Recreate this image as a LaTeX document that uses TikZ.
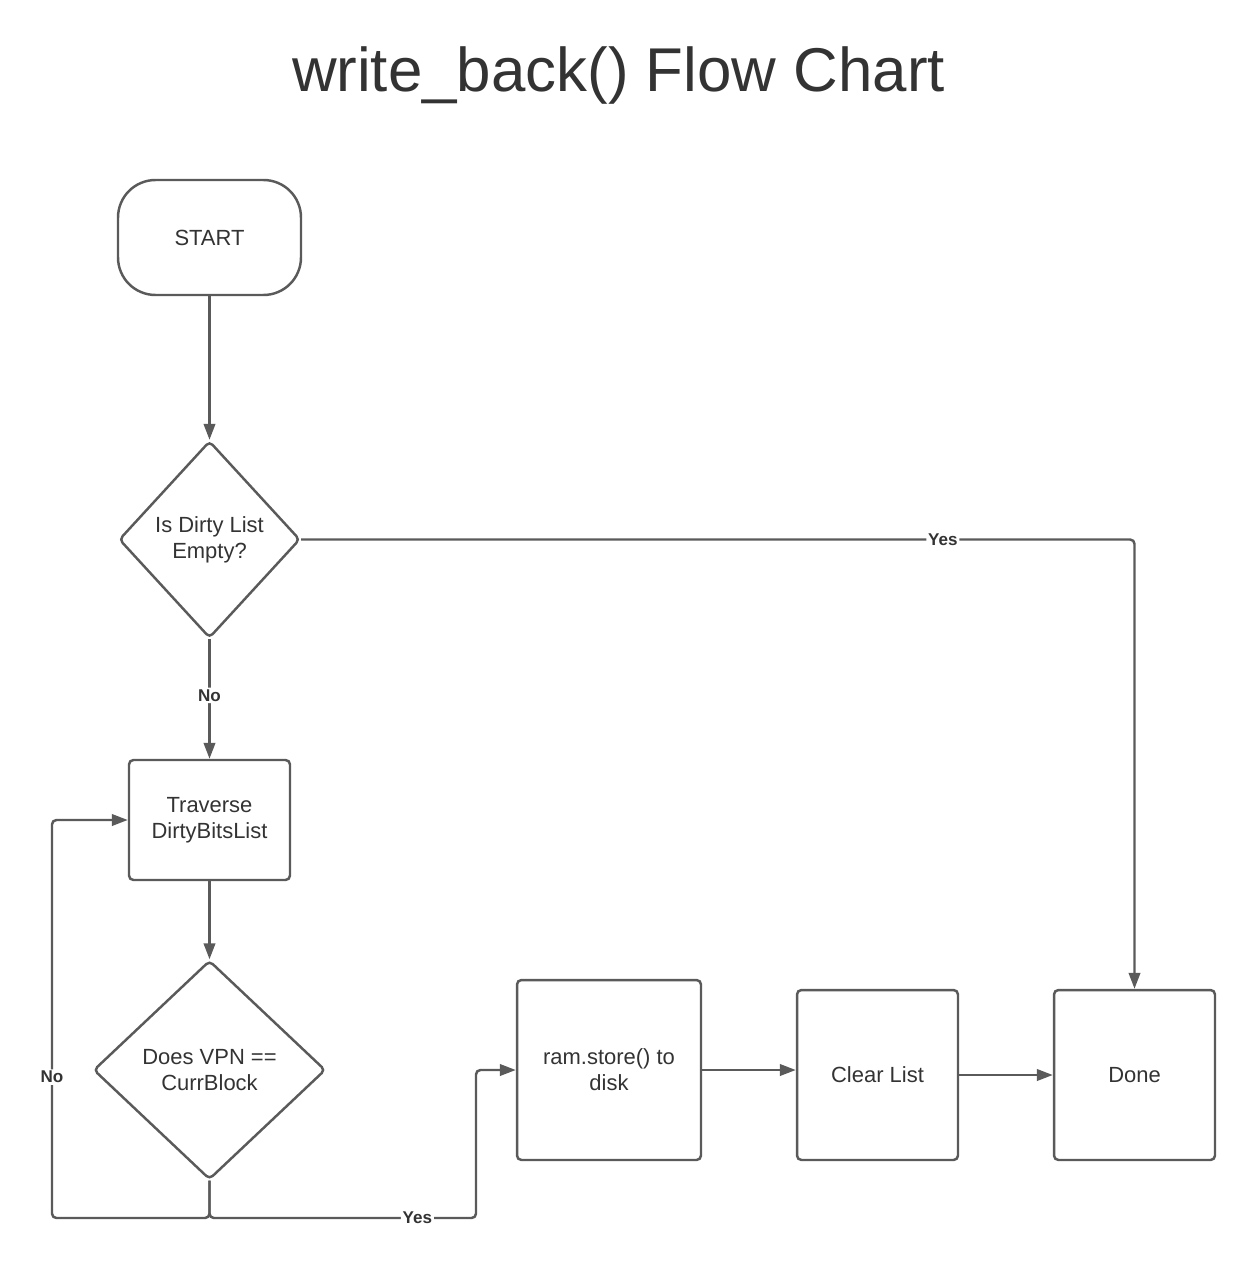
\documentclass[tikz,border=0pt]{standalone}
\usepackage{fontspec}
\setmainfont{Liberation Sans}
\usetikzlibrary{shapes.geometric,arrows.meta}
\definecolor{linegray}{HTML}{5A5A5A}
\definecolor{textgray}{HTML}{333333}

\begin{document}
\begin{tikzpicture}[
        x=0.02cm, y=-0.02cm,
        >={Triangle[length=3.2mm, width=2.3mm]},
        box/.style={draw=linegray, line width=1.4pt, align=center, text=textgray, font=\fontsize{12.5}{14.8}\selectfont, inner sep=1pt},
        terminal/.style={box, rounded corners=0.75cm},
        process/.style={box, rounded corners=2.5pt},
        decision/.style={box, diamond, rounded corners=2.5pt},
        flow/.style={->, draw=linegray, line width=1.4pt, rounded corners=2.5pt},
        lbl/.style={fill=white, text=textgray, font=\fontsize{9.7}{11}\selectfont\bfseries, inner sep=1pt}
    ]
        \useasboundingbox (0,0) rectangle (1255,1270);

        \node[text=textgray, font=\fontsize{35.2}{40}\selectfont, anchor=base] (title) at (618.5,92) {write\_back() Flow Chart};

        \node[terminal, minimum width=3.66cm, minimum height=2.3cm] (start) at (209.5,237.5) {START};
        \node[decision, minimum width=3.62cm, minimum height=3.94cm] (empty) at (209.5,539.5) {Is Dirty List\\Empty?};
        \node[process, minimum width=3.22cm, minimum height=2.4cm] (traverse) at (209.5,820) {Traverse\\DirtyBitsList};
        \node[decision, minimum width=4.64cm, minimum height=4.38cm] (match) at (209.5,1070) {Does VPN ==\\CurrBlock};

        \node[process, minimum width=3.68cm, minimum height=3.6cm] (store) at (609,1070) {ram.store() to\\disk};
        \node[process, minimum width=3.22cm, minimum height=3.4cm] (clear) at (877.5,1075) {Clear List};
        \node[process, minimum width=3.22cm, minimum height=3.4cm] (done) at (1134.5,1075) {Done};

        \coordinate (loop) at (52,1218);
        \coordinate (jog) at (476,1218);

        \draw[flow] (start) -- (empty);
        \draw[flow] (empty) -- node[lbl, pos=0.47] {No} (traverse);
        \draw[flow] (empty.east) -| node[lbl, pos=0.385] {Yes} (done.north);
        \draw[flow] (traverse) -- (match);
        \draw[flow] (match.south) |- (loop) |- node[lbl, pos=0.177] {No} (traverse.west);
        \draw[flow] (match.south) |- node[lbl, pos=0.89] {Yes} (jog) |- (store.west);
        \draw[flow] (store.east) -- (store.east -| clear.west);
        \draw[flow] (clear.east) -- (done.west);
    \end{tikzpicture}
\end{document}
